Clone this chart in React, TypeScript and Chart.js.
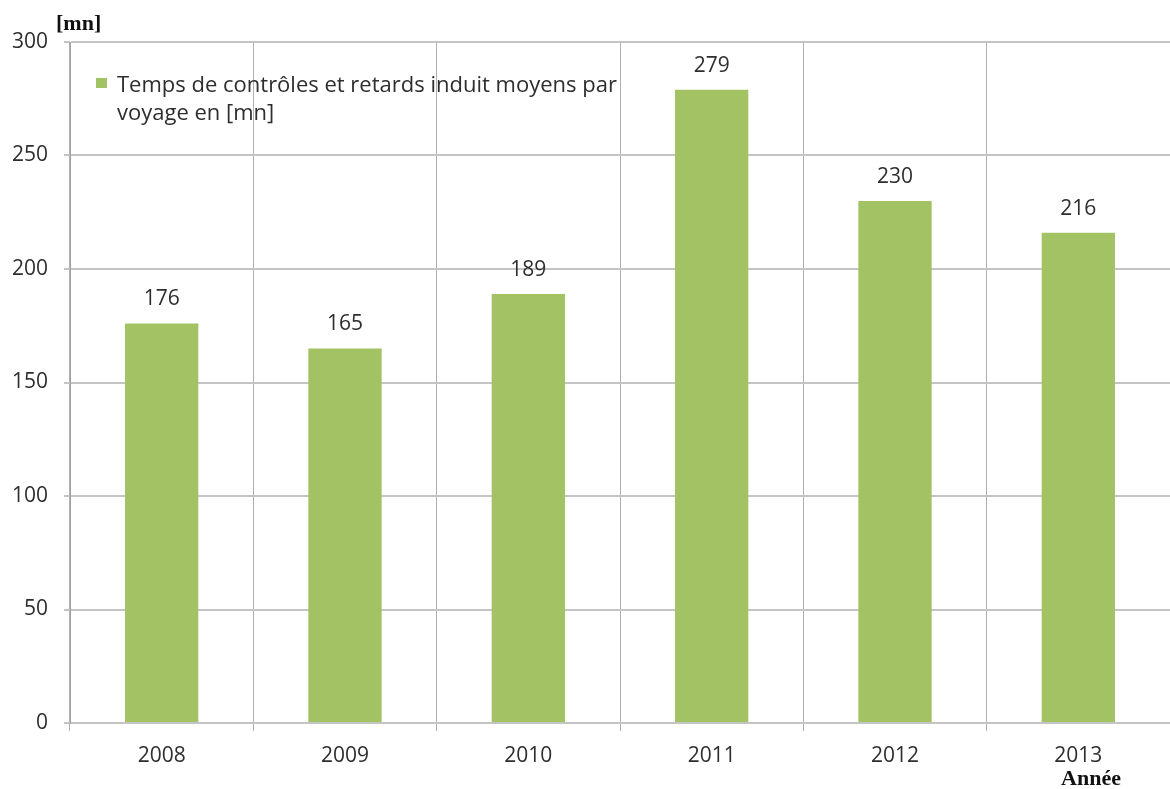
import React, { useEffect, useRef } from "react";
import { Chart, registerables } from "chart.js";

Chart.register(...registerables);

const years = ["2008", "2009", "2010", "2011", "2012", "2013"];
const values = [176, 165, 189, 279, 230, 216];
const seriesLabelLines = ["Temps de contrôles et retards induit moyens par", "voyage en [mn]"];
const yUnit = "[mn]";
const xTitle = "Année";

const FONT = "'Open Sans', sans-serif";
const BAR = "#a3c263";

export default function App() {
  const ref = useRef<HTMLCanvasElement | null>(null);
  useEffect(() => {
    if (!ref.current) return;
    const extras = {
      id: "extras",
      afterDatasetsDraw(chart: any) {
        const ctx = chart.ctx;
        const meta = chart.getDatasetMeta(0);
        ctx.save();
        ctx.fillStyle = "#2e2e2e";
        ctx.font = `21px ${FONT}`;
        ctx.textAlign = "center";
        ctx.textBaseline = "alphabetic";
        meta.data.forEach((el: any, i: number) => {
          ctx.fillText(String(values[i]), el.x, el.y - 18);
        });
        // legend
        const a = chart.chartArea;
        ctx.fillStyle = BAR;
        ctx.fillRect(a.left + 26, 78, 11, 10);
        ctx.fillStyle = "#2e2e2e";
        ctx.textAlign = "left";
        ctx.font = `22px ${FONT}`;
        seriesLabelLines.forEach((t, i) => ctx.fillText(t, a.left + 47, 92 + i * 28));
        // axis titles
        ctx.fillStyle = "#111";
        ctx.font = `bold 22px 'Liberation Serif', serif`;
        ctx.textBaseline = "middle";
        ctx.textAlign = "left";
        ctx.fillText(yUnit, 56, 24);
        ctx.textAlign = "center";
        ctx.fillText(xTitle, 1091, 779);
        ctx.restore();
      },
    };
    const chart = new Chart(ref.current, {
      type: "bar",
      data: {
        labels: years,
        datasets: [
          {
            label: seriesLabelLines.join(" "),
            data: values,
            backgroundColor: BAR,
            barPercentage: 0.4,
            categoryPercentage: 1,
          },
        ],
      },
      options: {
        animation: false,
        responsive: false,
        layout: { padding: { top: 42, right: 0, left: 0, bottom: 0 } },
        plugins: { legend: { display: false }, tooltip: { enabled: false } },
        scales: {
          x: {
            grid: { color: "#b0b0b0", lineWidth: 1, tickLength: 8, offset: true },
            border: { display: false },
            ticks: { color: "#2e2e2e", font: { family: FONT, size: 21 }, padding: 12 },
            afterFit: (s: any) => { s.height = 66; },
          },
          y: {
            min: 0,
            max: 300,
            ticks: { stepSize: 50, color: "#2e2e2e", font: { family: FONT, size: 21 }, padding: 16 },
            grid: { color: "#c4c4c4", lineWidth: 2, tickLength: 6, drawTicks: true },
            border: { display: true, color: "#a0a0a0", width: 1 },
            afterFit: (s: any) => { s.width = 70; },
          },
        },
      },
      plugins: [extras],
    });
    return () => chart.destroy();
  }, []);
  return (
    <div style={{ position: "fixed", left: 0, top: 0, width: 1170, height: 789, background: "#fff" }}>
      <canvas ref={ref} width={1170} height={789} style={{ display: "block" }} />
    </div>
  );
}
